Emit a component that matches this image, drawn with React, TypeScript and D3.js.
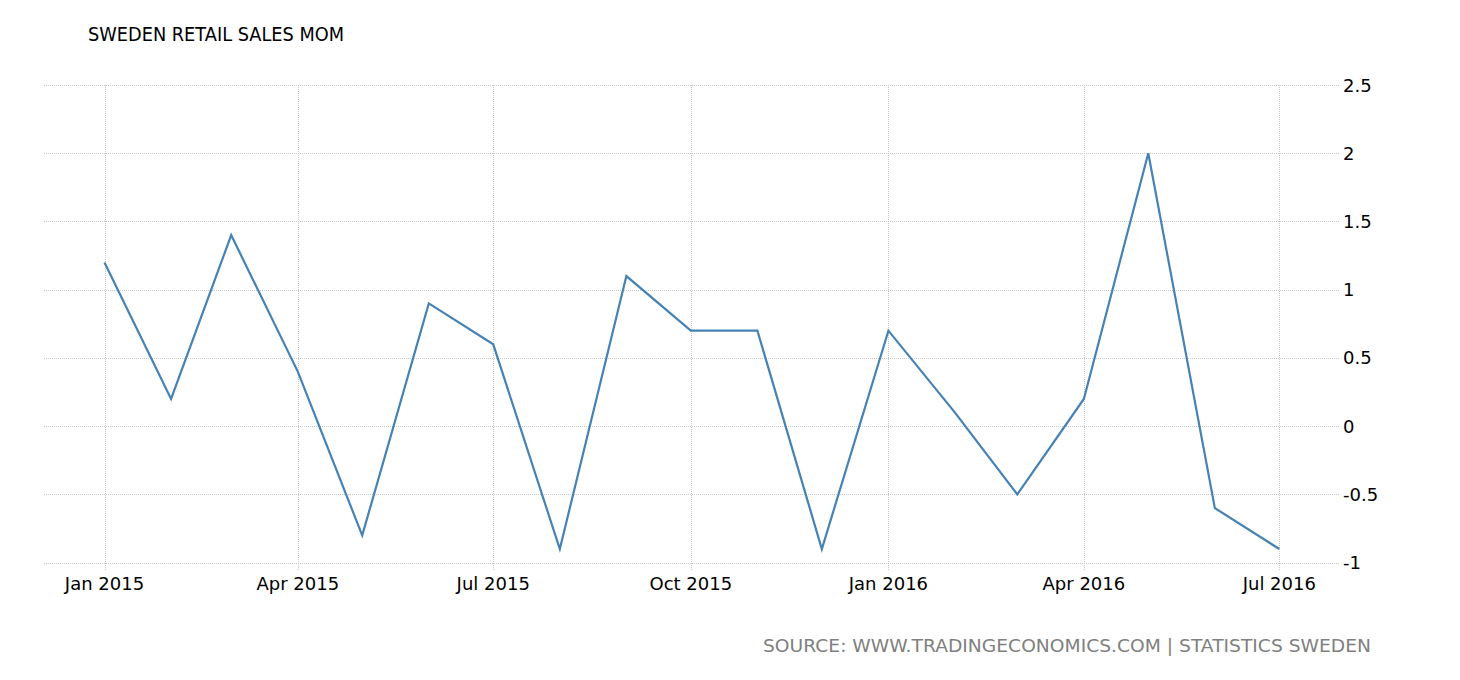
import React from "react";
import * as d3 from "d3";

const months: string[] = [
  "2015-01", "2015-02", "2015-03", "2015-04", "2015-05", "2015-06", "2015-07",
  "2015-08", "2015-09", "2015-10", "2015-11", "2015-12",
  "2016-01", "2016-02", "2016-03", "2016-04", "2016-05", "2016-06", "2016-07",
];
const values: number[] = [
  1.2, 0.2, 1.4, 0.4, -0.8, 0.9, 0.6, -0.9, 1.1, 0.7, 0.7, -0.9,
  0.7, 0.1, -0.5, 0.2, 2.0, -0.6, -0.9,
];
const yTicks: number[] = [2.5, 2, 1.5, 1, 0.5, 0, -0.5, -1];
const xTickMonths: string[] = ["2015-01", "2015-04", "2015-07", "2015-10", "2016-01", "2016-04", "2016-07"];

const TITLE = "SWEDEN RETAIL SALES MOM";
const SOURCE = "SOURCE: WWW.TRADINGECONOMICS.COM | STATISTICS SWEDEN";

const parse = d3.timeParse("%Y-%m");
const fmt = d3.timeFormat("%b %Y");

export default function App() {
  const W = 1460, H = 680;
  const gridLeft = 44, gridRight = 1340;
  const x = d3.scaleTime()
    .domain([parse("2015-01")!, parse("2016-07")!])
    .range([104.5, 1279.3]);
  const y = d3.scaleLinear().domain([-1, 2.5]).range([562.7, 85]);

  const data = months.map((m, i) => ({ d: parse(m)!, v: values[i] }));
  const line = d3.line<{ d: Date; v: number }>()
    .x((p) => x(p.d))
    .y((p) => y(p.v));

  const font = "'DejaVu Sans', Verdana, sans-serif";

  return (
    <svg width={W} height={H} style={{ position: "absolute", left: 0, top: 0, background: "#fff" }}>
      <text x={88} y={41} fontFamily={font} fontSize={19} fill="#000" textLength={256} lengthAdjust="spacingAndGlyphs">
        {TITLE}
      </text>
      {yTicks.map((t) => (
        <g key={"y" + t}>
          <line x1={gridLeft} x2={gridRight} y1={Math.round(y(t)) + 0.5} y2={Math.round(y(t)) + 0.5}
            stroke="#c8c8c8" strokeWidth={1} strokeDasharray="1,1" />
          <text x={1343} y={y(t) + 6.5} fontFamily={font} fontSize={18} fill="#000">
            {String(t)}
          </text>
        </g>
      ))}
      {xTickMonths.map((m) => {
        const d = parse(m)!;
        const xp = Math.round(x(d)) + 0.5;
        return (
          <g key={"x" + m}>
            <line x1={xp} x2={xp} y1={85} y2={570} stroke="#c8c8c8" strokeWidth={1} strokeDasharray="1,1" />
            <text x={x(d)} y={590} textAnchor="middle" fontFamily={font} fontSize={18} fill="#000">
              {fmt(d)}
            </text>
          </g>
        );
      })}
      <path d={line(data) || ""} fill="none" stroke="#4682b4" strokeWidth={2.2} strokeLinejoin="miter" />
      <text x={1371} y={652} textAnchor="end" fontFamily={font} fontSize={18.5} fill="#808080"
        textLength={608} lengthAdjust="spacingAndGlyphs">
        {SOURCE}
      </text>
    </svg>
  );
}
